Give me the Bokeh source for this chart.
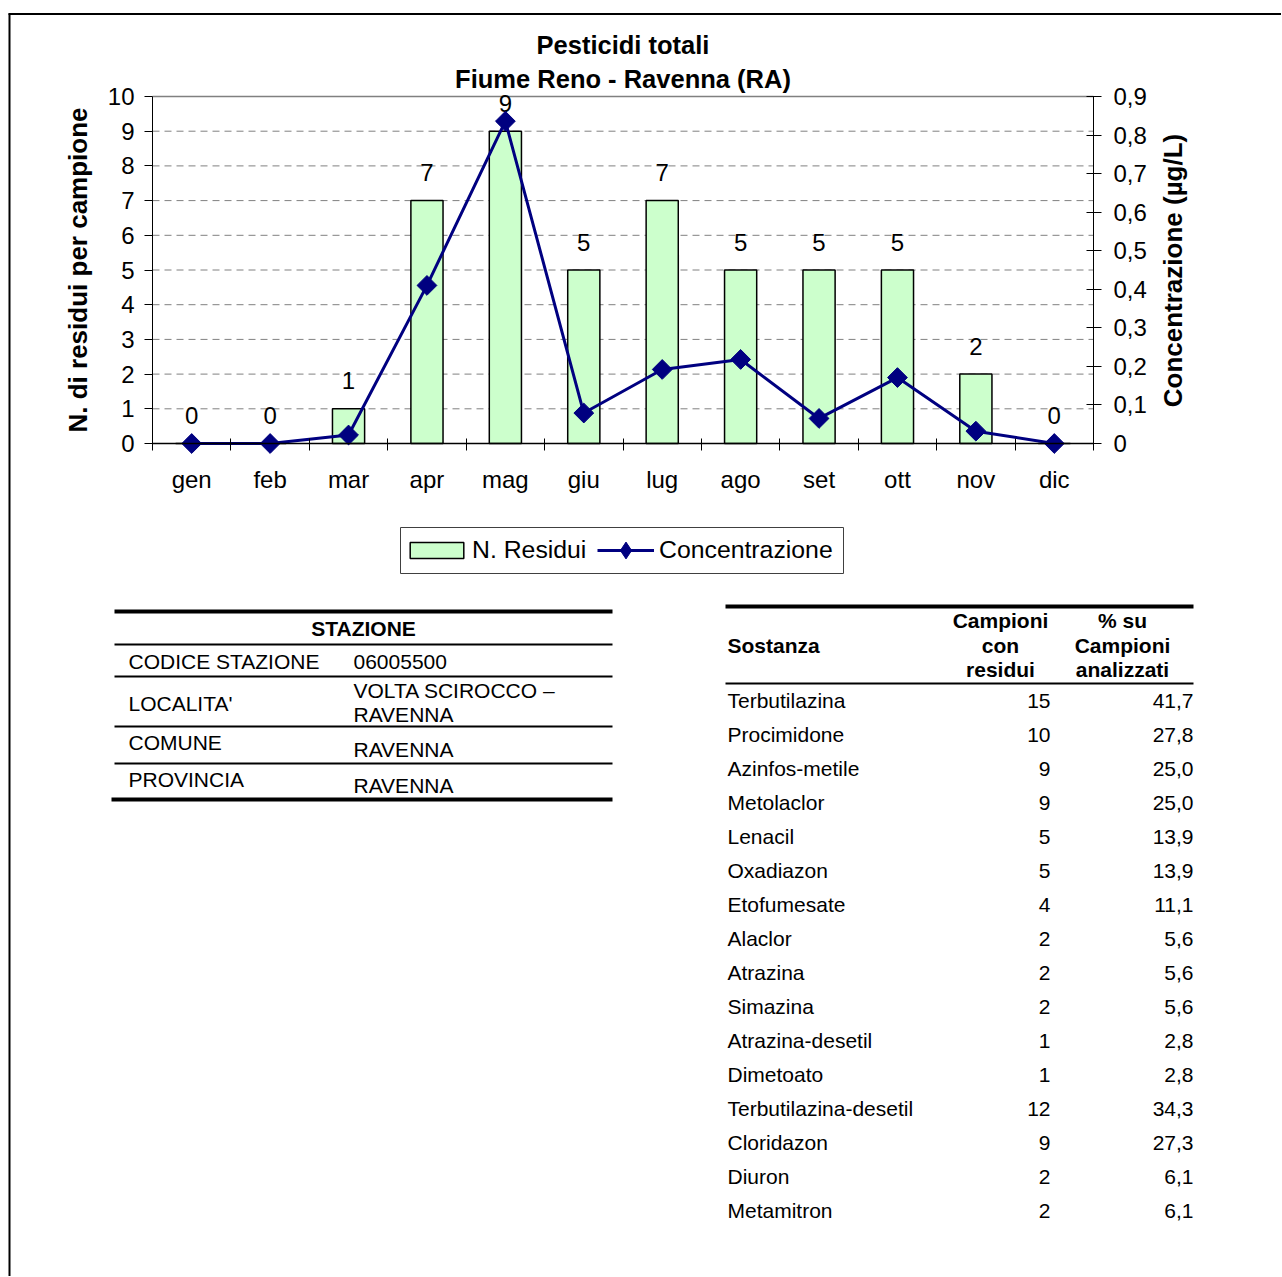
import numpy as np
from bokeh.plotting import figure
from bokeh.models import (Range1d, LinearAxis, FixedTicker, CustomJSTickFormatter, Legend,
                          LegendItem, ColumnDataSource)
from bokeh.core.properties import value
from bokeh.embed import file_html
from bokeh.resources import INLINE

FONT = "Liberation Sans"

# ---------------- data ----------------
months = ["gen", "feb", "mar", "apr", "mag", "giu", "lug", "ago", "set", "ott", "nov", "dic"]
n_residui = [0, 0, 1, 7, 9, 5, 7, 5, 5, 5, 2, 0]
concentrazione = [0.0, 0.0, 0.022, 0.41, 0.836, 0.079, 0.192, 0.218, 0.065, 0.171, 0.032, 0.0]
left_ticks = [0, 1, 2, 3, 4, 5, 6, 7, 8, 9, 10]
grid_ticks = [1, 2, 3, 4, 5, 6, 7, 8, 9]
right_ticks = [0, 0.1, 0.2, 0.3, 0.4, 0.5, 0.6, 0.7, 0.8, 0.9]

title_lines = ["Pesticidi totali", "Fiume Reno - Ravenna (RA)"]
y_left_label = "N. di residui per campione"
y_right_label = "Concentrazione (\u00b5g/L)"
legend_labels = ["N. Residui", "Concentrazione"]

stazione_header = "STAZIONE"
stazione_keys = ["CODICE STAZIONE", "LOCALITA'", "COMUNE", "PROVINCIA"]
stazione_values = [["06005500"], ["VOLTA SCIROCCO \u2013", "RAVENNA"], ["RAVENNA"], ["RAVENNA"]]

sost_header = ["Sostanza"]
camp_header = ["Campioni", "con", "residui"]
perc_header = ["% su", "Campioni", "analizzati"]
sostanze = ["Terbutilazina", "Procimidone", "Azinfos-metile", "Metolaclor", "Lenacil",
            "Oxadiazon", "Etofumesate", "Alaclor", "Atrazina", "Simazina",
            "Atrazina-desetil", "Dimetoato", "Terbutilazina-desetil", "Cloridazon",
            "Diuron", "Metamitron"]
campioni = [15, 10, 9, 9, 5, 5, 4, 2, 2, 2, 1, 1, 12, 9, 2, 2]
percentuali = [41.7, 27.8, 25.0, 25.0, 13.9, 13.9, 11.1, 5.6, 5.6, 5.6, 2.8, 2.8, 34.3, 27.3, 6.1, 6.1]

# ---------------- page geometry (pixels) ----------------
W, H = 1281, 1276
PL, PR = 152, 1093      # plot area left / right
PT, PB = 96, 443        # plot area top (value 10) / bottom (value 0)
NMAX = 10
CMAX = 0.9

px_m = (PR - PL) / 12.0
m_start = 0.5 - PL / px_m
m_end = 0.5 + (W - PL) / px_m
px_n = (PB - PT) / NMAX
n_top = NMAX + PT / px_n
n_bot = -(H - PB) / px_n
cf = CMAX / NMAX

p = figure(width=W, height=H, x_range=Range1d(0, W), y_range=Range1d(H, 0),
           output_backend="svg", toolbar_location=None, title=None,
           x_axis_type=None, y_axis_type=None, min_border=0,
           outline_line_color=None, background_fill_color="white", border_fill_color="white")
p.extra_x_ranges = {"m": Range1d(m_start, m_end)}
p.extra_y_ranges = {"n": Range1d(n_bot, n_top), "c": Range1d(n_bot * cf, n_top * cf)}

x = list(range(1, len(months) + 1))
src = ColumnDataSource(dict(x=x, n=n_residui, c=concentrazione, lbl=[str(v) for v in n_residui]))

# grid lines and top line of plot area
p.segment(x0=[0.5] * len(grid_ticks), x1=[12.5] * len(grid_ticks), y0=grid_ticks, y1=grid_ticks,
          x_range_name="m", y_range_name="n", line_color="#808080", line_width=1, line_dash="7 5")
p.segment(x0=[0.5], x1=[12.5], y0=[NMAX], y1=[NMAX], x_range_name="m", y_range_name="n",
          line_color="#808080", line_width=1.3)

# bars, labels, line
bars = p.vbar(x="x", top="n", bottom=0, width=0.41, source=src, x_range_name="m", y_range_name="n",
              fill_color="#CCFFCC", line_color="black", line_width=1.5)
p.text(x="x", y="n", text="lbl", source=src, x_range_name="m", y_range_name="n",
       text_align="center", text_baseline="middle", y_offset=-28,
       text_font=value(FONT), text_font_size="24px", text_color="black")

# axes
xa = LinearAxis(x_range_name="m", y_range_name="n", fixed_location=0, bounds=(0.5, 12.5),
                ticker=FixedTicker(ticks=x, minor_ticks=[i + 0.5 for i in range(0, len(months) + 1)]),
                formatter=CustomJSTickFormatter(args=dict(labels=months),
                    code="const i = Math.round(tick) - 1; return (i >= 0 && i < labels.length) ? labels[i] : '';"),
                major_tick_line_color=None, major_tick_in=0, major_tick_out=0,
                minor_tick_in=5, minor_tick_out=7, minor_tick_line_color="black",
                axis_line_color="black", axis_line_width=1.5, major_label_standoff=15,
                major_label_text_font=FONT, major_label_text_font_size="24px",
                major_label_text_color="black")
p.add_layout(xa, "below")

yl = LinearAxis(x_range_name="m", y_range_name="n", fixed_location=0.5, bounds=(0, NMAX),
                ticker=FixedTicker(ticks=left_ticks), major_tick_in=0, major_tick_out=8,
                minor_tick_line_color=None, major_label_standoff=10,
                major_label_text_font=FONT, major_label_text_font_size="24px",
                major_label_text_color="black", axis_line_color="black", major_tick_line_color="black",
                axis_label=y_left_label, axis_label_text_font=FONT, axis_label_text_font_style="bold",
                axis_label_text_font_size="26px", axis_label_text_color="black", axis_label_standoff=12)
p.add_layout(yl, "left")

yr = LinearAxis(x_range_name="m", y_range_name="c", fixed_location=12.5, bounds=(0, CMAX),
                ticker=FixedTicker(ticks=right_ticks),
                formatter=CustomJSTickFormatter(code="return tick == 0 ? '0' : tick.toFixed(1).replace('.', ',');"),
                major_tick_in=7, major_tick_out=8, minor_tick_line_color=None,
                major_label_standoff=12, major_label_text_font=FONT, major_label_text_font_size="24px",
                major_label_text_color="black", axis_line_color="black", major_tick_line_color="black")
p.add_layout(yr, "right")

line = p.line(x="x", y="c", source=src, x_range_name="m", y_range_name="c",
              line_color="#000080", line_width=3)
pts = p.scatter(x="x", y="c", source=src, x_range_name="m", y_range_name="c", marker="square",
                angle=np.pi / 4, size=14, fill_color="#000080", line_color="#000080", line_width=1)
# hidden diamond renderer of the same series, used only for the legend swatch
leg_marker = p.scatter(x="x", y="c", source=src, x_range_name="m", y_range_name="c", marker="diamond",
                       fill_color="#000080", line_color="#000080", visible=False)

# titles
p.text(x=[(PL + PR) / 2] * 2, y=[44, 78], text=title_lines, text_align="center", text_baseline="middle",
       text_font=value(FONT), text_font_size="25.5px", text_font_style="bold", text_color="black")
# right axis title
p.text(x=[1172], y=[270], text=[y_right_label], angle=np.pi / 2, text_align="center",
       text_baseline="middle", text_font=value(FONT), text_font_size="26px",
       text_font_style="bold", text_color="black")

# legend box + two legends
LEG_CY = 550
p.quad(left=[400], right=[843], top=[527], bottom=[573], fill_color="white",
       line_color="#404040", line_width=1)
common = dict(orientation="horizontal", label_text_font=FONT, label_text_font_size="24.8px",
              label_text_color="black", padding=0, spacing=0, margin=0,
              border_line_color=None, background_fill_alpha=0, label_height=20,
              inactive_fill_alpha=0)
leg1 = Legend(items=[LegendItem(label=legend_labels[0], renderers=[bars])],
              location=(403, H - (LEG_CY + 13.5)), glyph_width=67, glyph_height=20,
              label_standoff=2, **common)
leg2 = Legend(items=[LegendItem(label=legend_labels[1], renderers=[line, leg_marker])],
              location=(597, H - (LEG_CY + 21)), glyph_width=57, glyph_height=42,
              label_standoff=5, **common)
p.add_layout(leg1)
p.add_layout(leg2)

# ---------------- outer frame ----------------
p.segment(x0=[9, 8], y0=[13, 13.5], x1=[9, W], y1=[H, 13.5], line_color="black", line_width=2)

# ---------------- tables ----------------
TF = "21px"
# left table
p.segment(x0=[114, 111], y0=[611, 799], x1=[612, 612], y1=[611, 799], line_color="black", line_width=4)
p.segment(x0=[114] * 4, y0=[644, 676, 726, 763], x1=[612] * 4, y1=[644, 676, 726, 763],
          line_color="black", line_width=2)
p.text(x=[363], y=[628], text=[stazione_header], text_align="center", text_baseline="middle",
       text_font=value(FONT), text_font_size=TF, text_font_style="bold", text_color="black")
key_y = [661, 703, 742, 779]
val_y = [[661], [690, 714], [749], [785]]
p.text(x=[128] * len(stazione_keys), y=key_y, text=stazione_keys, text_align="left", text_baseline="middle",
       text_font=value(FONT), text_font_size=TF, text_color="black")
vx, vy, vt = [], [], []
for vals, ys in zip(stazione_values, val_y):
    for v, yy in zip(vals, ys):
        vx.append(353); vy.append(yy); vt.append(v)
p.text(x=vx, y=vy, text=vt, text_align="left", text_baseline="middle",
       text_font=value(FONT), text_font_size=TF, text_color="black")

# right table
p.segment(x0=[725], y0=[606], x1=[1193], y1=[606], line_color="black", line_width=4)
p.segment(x0=[725], y0=[683], x1=[1193], y1=[683], line_color="black", line_width=2)
hdr_y = [620, 645, 669]
p.text(x=[727], y=[645], text=sost_header, text_align="left", text_baseline="middle",
       text_font=value(FONT), text_font_size=TF, text_font_style="bold", text_color="black")
p.text(x=[1000] * 3, y=hdr_y, text=camp_header, text_align="center", text_baseline="middle",
       text_font=value(FONT), text_font_size=TF, text_font_style="bold", text_color="black")
p.text(x=[1122] * 3, y=hdr_y, text=perc_header, text_align="center", text_baseline="middle",
       text_font=value(FONT), text_font_size=TF, text_font_style="bold", text_color="black")
row_y = [700 + 34 * i for i in range(len(sostanze))]
p.text(x=[727] * len(sostanze), y=row_y, text=sostanze, text_align="left", text_baseline="middle",
       text_font=value(FONT), text_font_size=TF, text_color="black")
p.text(x=[1050] * len(sostanze), y=row_y, text=[str(v) for v in campioni], text_align="right",
       text_baseline="middle", text_font=value(FONT), text_font_size=TF, text_color="black")
p.text(x=[1193] * len(sostanze), y=row_y, text=[f"{v:.1f}".replace(".", ",") for v in percentuali],
       text_align="right", text_baseline="middle", text_font=value(FONT), text_font_size=TF, text_color="black")

open("out.html", "w").write(file_html(p, INLINE))
